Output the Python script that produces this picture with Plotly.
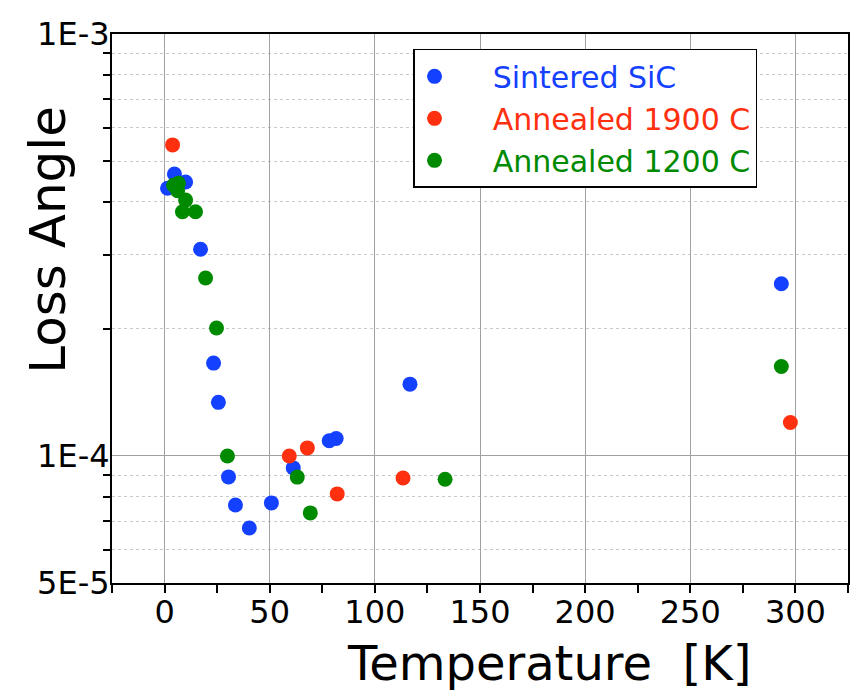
import plotly.graph_objects as go

# Data (Temperature [K], Loss angle)
sic_T = [4.7, 10.0, 1.4, 17.1, 23.3, 25.6, 30.4, 33.7, 40.3, 50.8, 61.2, 78.3, 81.6, 116.7, 293.3]
sic_L = [4.66e-4, 4.46e-4, 4.31e-4, 3.09e-4, 1.66e-4, 1.34e-4, 8.92e-5, 7.65e-5, 6.75e-5, 7.74e-5,
         9.37e-5, 1.087e-4, 1.10e-4, 1.48e-4, 2.56e-4]

a1900_T = [3.8, 59.3, 67.9, 82.1, 113.4, 297.6]
a1900_L = [5.46e-4, 1.0e-4, 1.045e-4, 8.13e-5, 8.87e-5, 1.20e-4]

a1200_T = [4.3, 6.6, 6.2, 10.0, 8.5, 14.7, 19.5, 24.7, 29.9, 63.1, 69.3, 133.4, 293.3]
a1200_L = [4.38e-4, 4.43e-4, 4.25e-4, 4.04e-4, 3.79e-4, 3.79e-4, 2.64e-4, 2.01e-4, 1.0e-4,
           8.91e-5, 7.33e-5, 8.81e-5, 1.63e-4]

series_names = ["Sintered SiC", "Annealed 1900 C", "Annealed 1200 C"]
colors = ["#1440ff", "#ff3010", "#008a00"]

x_ticks = [0, 50, 100, 150, 200, 250, 300]
x_minor = [-25, 25, 75, 125, 175, 225, 275, 325]
y_ticks = [5e-5, 1e-4, 1e-3]
y_ticktext = ["5E-5", "1E-4", "1E-3"]
y_minor = [6e-5, 7e-5, 8e-5, 9e-5, 2e-4, 3e-4, 4e-4, 5e-4, 6e-4, 7e-4, 8e-4, 9e-4]

FONT = "Comic Sans MS, DejaVu Sans, sans-serif"

fig = go.Figure()
for xs, ys, name, c in [(sic_T, sic_L, series_names[0], colors[0]),
                        (a1900_T, a1900_L, series_names[1], colors[1]),
                        (a1200_T, a1200_L, series_names[2], colors[2])]:
    fig.add_trace(go.Scatter(
        x=xs, y=ys, mode="markers",
        name=f"<span style='color:{c}'>    {name}</span>",
        marker=dict(color=c, size=15, line=dict(width=0)),
    ))

fig.update_layout(
    width=850, height=690,
    margin=dict(l=112, r=2, t=34, b=107, autoexpand=False),
    plot_bgcolor="white", paper_bgcolor="white",
    font=dict(family=FONT, color="black"),
    showlegend=True,
    legend=dict(
        x=0.409, y=0.973, xanchor="left", yanchor="top",
        bgcolor="white", bordercolor="black", borderwidth=1.5,
        font=dict(family=FONT, size=30),
        itemsizing="trace", tracegroupgap=0,
    ),
    xaxis=dict(
        range=[-25, 325], tickmode="array", tickvals=x_ticks, automargin=False,
        ticks="outside", ticklen=8, tickwidth=2, tickcolor="black",
        ticklabelstandoff=-8,
        tickfont=dict(family=FONT, size=32),
        showline=True, linecolor="black", linewidth=2, mirror=True,
        showgrid=True, gridcolor="#a0a0a0", gridwidth=1, zeroline=False,
        minor=dict(tickmode="array", tickvals=x_minor, ticks="outside", ticklen=8,
                   tickwidth=2, tickcolor="black", showgrid=False),
    ),
    yaxis=dict(
        type="log", range=[-4.30103, -3], tickmode="array", automargin=False,
        tickvals=y_ticks, ticktext=y_ticktext,
        ticks="", ticklabelstandoff=-6,
        tickfont=dict(family=FONT, size=32),
        showline=True, linecolor="black", linewidth=2, mirror=True,
        showgrid=True, gridcolor="#a0a0a0", gridwidth=1, zeroline=False,
        minor=dict(tickmode="array", tickvals=y_minor, ticks="outside", ticklen=7,
                   tickwidth=2, tickcolor="black", showgrid=True,
                   gridcolor="#c8c8c8", griddash="dot", gridwidth=1),
    ),
    annotations=[
        dict(text="Temperature  [K]", xref="paper", yref="paper", x=0.594, y=-0.145,
             xanchor="center", yanchor="middle", showarrow=False,
             font=dict(family=FONT, size=48, color="black")),
        dict(text="Loss Angle", xref="paper", yref="paper", x=-0.087, y=0.625,
             xanchor="center", yanchor="middle", showarrow=False, textangle=-90,
             font=dict(family=FONT, size=50, color="black")),
    ],
)

fig.write_html(
    "out.html",
    config={"responsive": False, "displayModeBar": False},
    post_script="document.body.style.margin='0';document.body.style.overflow='hidden';",
)
